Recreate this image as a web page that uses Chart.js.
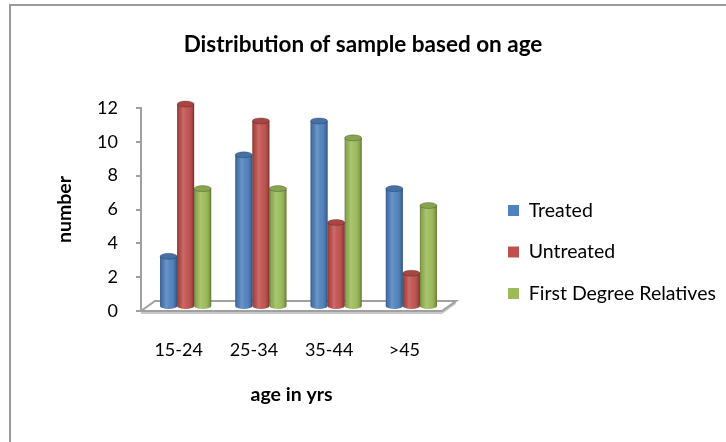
<!DOCTYPE html>
<html>
<head>
<meta charset="utf-8">
<script src="https://cdn.jsdelivr.net/npm/chart.js@4.4.1/dist/chart.umd.min.js"></script>
<style>
  html, body { margin: 0; padding: 0; background: #ffffff; }
  #wrap { width: 726px; height: 442px; position: relative; }
</style>
</head>
<body>
<div id="wrap"><canvas id="chart" width="726" height="442"></canvas></div>
<script>
// Age groups and counts per group
const ageGroups = ['15-24', '25-34', '35-44', '>45'];
const treated = [3, 9, 11, 7];
const untreated = [12, 11, 5, 2];
const firstDegreeRelatives = [7, 7, 10, 6];
const yTickValues = [0, 2, 4, 6, 8, 10, 12];

const seriesColors = { treated: '#4F81BD', untreated: '#C0504D', relatives: '#9BBB59' };

Chart.defaults.font.family = 'Lato, "Open Sans", "DejaVu Sans", sans-serif';
Chart.defaults.color = '#000000';

// Depth offset of the pseudo-3D floor and of the cylinders standing on it
const DEPTH_X = 14, DEPTH_Y = 10;
const BAR_SHIFT_X = 7, BAR_SHIFT_Y = -4;
const CAP_RY = 3;

// Width reserved on the right for the legend column
const LEGEND_WIDTH = 284;

// Thin grey frame along the top and left edges
const framePlugin = {
  id: 'frame',
  beforeDraw(chart) {
    const ctx = chart.ctx;
    ctx.save();
    ctx.strokeStyle = '#9a9a9a';
    ctx.lineWidth = 2;
    ctx.beginPath();
    ctx.moveTo(10, chart.height);
    ctx.lineTo(10, 5);
    ctx.lineTo(chart.width, 5);
    ctx.stroke();
    ctx.restore();
  }
};

// Floor slab under the bars, then shaded cylinders drawn over the library bars
const cylinderPlugin = {
  id: 'cylinders',
  beforeDatasetsDraw(chart) {
    const ctx = chart.ctx;
    const { left, right } = chart.chartArea;
    const y0 = chart.scales.y.getPixelForValue(0);
    ctx.save();
    // front face of the slab
    ctx.fillStyle = '#c8c8c8';
    ctx.beginPath();
    ctx.moveTo(left, y0);
    ctx.lineTo(right, y0);
    ctx.lineTo(right + DEPTH_X, y0 - DEPTH_Y);
    ctx.lineTo(right + DEPTH_X, y0 - DEPTH_Y + 3);
    ctx.lineTo(right, y0 + 3);
    ctx.lineTo(left, y0 + 3);
    ctx.closePath();
    ctx.fill();
    // top face outline
    ctx.fillStyle = '#ffffff';
    ctx.strokeStyle = '#a0a0a0';
    ctx.lineWidth = 2;
    ctx.beginPath();
    ctx.moveTo(left, y0);
    ctx.lineTo(right, y0);
    ctx.lineTo(right + DEPTH_X, y0 - DEPTH_Y);
    ctx.lineTo(left + DEPTH_X, y0 - DEPTH_Y);
    ctx.closePath();
    ctx.fill();
    ctx.stroke();
    ctx.restore();

    ctx.save();
    ctx.translate(BAR_SHIFT_X, BAR_SHIFT_Y);
  },
  afterDatasetsDraw(chart) {
    const ctx = chart.ctx;
    chart.data.datasets.forEach((ds, di) => {
      const meta = chart.getDatasetMeta(di);
      meta.data.forEach((el) => {
        const { x, y, base, width } = el.getProps(['x', 'y', 'base', 'width'], true);
        const rx = width / 2;
        const l = x - rx;
        // rounded bottom
        ctx.fillStyle = ds.backgroundColor;
        ctx.beginPath();
        ctx.ellipse(x, base, rx, CAP_RY, 0, 0, Math.PI);
        ctx.fill();
        // cylindrical shading
        const g = ctx.createLinearGradient(l, 0, l + width, 0);
        g.addColorStop(0, 'rgba(0,0,0,0.30)');
        g.addColorStop(0.12, 'rgba(0,0,0,0.08)');
        g.addColorStop(0.35, 'rgba(255,255,255,0.16)');
        g.addColorStop(0.6, 'rgba(255,255,255,0.04)');
        g.addColorStop(0.88, 'rgba(0,0,0,0.14)');
        g.addColorStop(1, 'rgba(0,0,0,0.38)');
        ctx.fillStyle = g;
        ctx.beginPath();
        ctx.moveTo(l, y);
        ctx.lineTo(l, base);
        ctx.ellipse(x, base, rx, CAP_RY, 0, Math.PI, 0, true);
        ctx.lineTo(l + width, y);
        ctx.closePath();
        ctx.fill();
        // top cap
        ctx.fillStyle = ds.backgroundColor;
        ctx.beginPath();
        ctx.ellipse(x, y, rx, CAP_RY, 0, 0, Math.PI * 2);
        ctx.fill();
        ctx.fillStyle = 'rgba(0,0,0,0.12)';
        ctx.fill();
        ctx.strokeStyle = 'rgba(0,0,0,0.22)';
        ctx.lineWidth = 1;
        ctx.stroke();
      });
    });
    ctx.restore();
  }
};

// Fixed-width legend column, placed to the right of the floor
const legendPlacement = {
  id: 'legendPlacement',
  beforeLayout(chart) {
    const lg = chart.legend;
    if (lg && !lg.__fixedWidth) {
      const fit = lg.fit;
      lg.fit = function () { fit.call(this); this.width = LEGEND_WIDTH; };
      lg.__fixedWidth = true;
    }
  },
  afterLayout(chart) {
    const lg = chart.legend;
    if (!lg) return;
    lg.left += 44; lg.right += 44;
    lg.top += 31; lg.bottom += 31;
  }
};

new Chart(document.getElementById('chart'), {
  type: 'bar',
  data: {
    labels: ageGroups,
    datasets: [
      { label: 'Treated', data: treated, backgroundColor: seriesColors.treated },
      { label: 'Untreated', data: untreated, backgroundColor: seriesColors.untreated },
      { label: 'First Degree Relatives', data: firstDegreeRelatives, backgroundColor: seriesColors.relatives }
    ]
  },
  options: {
    responsive: false,
    animation: false,
    devicePixelRatio: 1,
    layout: { padding: 0 },
    datasets: { bar: { categoryPercentage: 0.68, barPercentage: 1.0, borderWidth: 0 } },
    plugins: {
      title: {
        display: true,
        text: 'Distribution of sample based on age',
        color: '#000000',
        font: { size: 22.5, weight: 'bold' },
        padding: { top: 31, bottom: 50 }
      },
      legend: {
        position: 'right',
        labels: { boxWidth: 11, boxHeight: 11, padding: 22, color: '#000000', font: { size: 19.5 } }
      },
      tooltip: { enabled: false }
    },
    scales: {
      x: {
        grid: { display: false },
        border: { display: false },
        ticks: { padding: 20, font: { size: 18 }, color: '#000000' },
        title: { display: true, text: 'age in yrs', color: '#000000', font: { size: 19.5, weight: 'bold' }, padding: { top: 0, bottom: 36 } },
        afterFit(scale) { scale.height = 131; }
      },
      y: {
        min: 0,
        max: 12,
        afterBuildTicks(scale) { scale.ticks = yTickValues.map(v => ({ value: v })); },
        grid: { drawOnChartArea: false, drawTicks: true, tickLength: 5, color: '#a0a0a0', lineWidth: 2 },
        border: { display: true, color: '#a0a0a0', width: 2 },
        ticks: { padding: 18, font: { size: 18 }, color: '#000000' },
        title: { display: true, text: 'number', color: '#000000', font: { size: 19.5, weight: 'bold' }, padding: { top: 53, bottom: 0 } },
        afterFit(scale) { scale.width = 141; }
      }
    }
  },
  plugins: [framePlugin, cylinderPlugin, legendPlacement]
});
</script>
</body>
</html>
